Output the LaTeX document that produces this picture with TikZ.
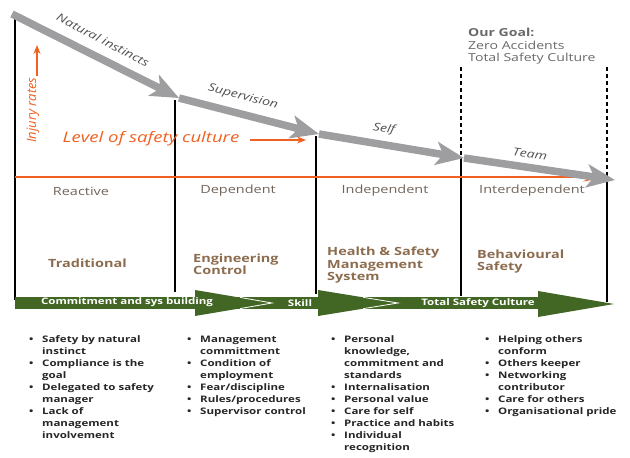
\documentclass[tikz,border=0pt]{standalone}
\usepackage{fontspec}
\setmainfont[FakeStretch=1.28]{Open Sans}
\newfontfamily\plainfont{Open Sans}
\usetikzlibrary{arrows.meta}
\definecolor{arrgray}{RGB}{158,158,160}
\definecolor{lblgray}{RGB}{80,80,84}
\definecolor{stage}{RGB}{112,100,90}
\definecolor{cat}{RGB}{140,108,78}
\definecolor{goal}{RGB}{105,105,105}
\definecolor{orng}{RGB}{240,96,32}
\definecolor{band}{RGB}{66,102,36}
\newcommand{\bit}[1]{\par\noindent\hangindent=13pt\hangafter=1\makebox[13pt][l]{\textbullet}#1\par}
\begin{document}
\begin{tikzpicture}[x=1pt,y=-1pt,
  vline/.style={line width=2pt,black},
  dline/.style={line width=2pt,black,dash pattern=on 4pt off 3pt},
  grayseg/.style={line width=7.5pt,arrgray,-{Stealth[length=28pt,width=23pt,inset=7pt]}},
  arrlbl/.style={font=\itshape\fontsize{11}{13}\selectfont,text=lblgray,inner sep=0pt},
  stagelbl/.style={font=\fontsize{11.3}{13}\selectfont,text=stage,inner sep=0pt},
  catlbl/.style={font=\bfseries\fontsize{11.3}{12.5}\selectfont,text=cat,inner sep=0pt,align=left,anchor=west},
  bandlbl/.style={font=\bfseries\fontsize{9}{10}\selectfont,text=white,inner sep=0pt},
  blist/.style={font=\bfseries\fontsize{9}{12}\selectfont,text=black!85,inner sep=0pt,anchor=north west,align=left}
]
\useasboundingbox (0,0) rectangle (630,458);
% coordinates
\coordinate (p0) at (12,14);
\coordinate (p1) at (179,98);
\coordinate (p2) at (319,134);
\coordinate (p3) at (464,158);
\coordinate (p4) at (615,180);
% vertical lines
\coordinate (a1) at (15,17); \coordinate (b1) at (15,300);
\coordinate (a2) at (175,100); \coordinate (b2) at (175,292);
\coordinate (a3) at (316,136); \coordinate (b3) at (316,294);
\coordinate (a4) at (461,67); \coordinate (m4) at (461,158); \coordinate (b4) at (461,296);
\coordinate (a5) at (607,67); \coordinate (m5) at (607,178); \coordinate (b5) at (607,302);
\draw[vline] (a1) -- (b1);
\draw[vline] (a2) -- (b2);
\draw[vline] (a3) -- (b3);
\draw[dline] (a4) -- (m4);
\draw[vline] (m4) -- (b4);
\draw[dline] (a5) -- (m5);
\draw[vline] (m5) -- (b5);
% orange level line
\coordinate (o1) at (15,177);
\coordinate (o2) at (609,177);
\draw[orng,line width=2.5pt,-{Stealth[length=26pt,width=9pt]}] (o1) -- (o2);
% gray arrows
\draw[grayseg] (p0) -- (p1);
\draw[grayseg] (p1) -- (p2);
\draw[grayseg] (p2) -- (p3);
\draw[grayseg] (p3) -- (p4);
% labels on gray arrow
\node[arrlbl,rotate=-27.7] (nat) at (103,40) {Natural instincts};
\node[arrlbl,rotate=-14] (sup) at (243,97) {Supervision};
\node[arrlbl,rotate=-9] (self) at (384,129) {Self};
\node[arrlbl,rotate=-8] (team) at (530,154) {Team};
% level of safety culture
\node[font=\itshape\fontsize{14.5}{16}\selectfont,text=orng,inner sep=0pt] (lev) at (151,139) {Level of safety culture};
\coordinate (la) at (250,140);
\coordinate (lb) at (306,140);
\draw[orng,line width=1.3pt,-{Stealth[length=9pt,width=7pt]}] (la) -- (lb);
% injury rates
\node[font=\plainfont\itshape\fontsize{13}{15}\selectfont,text=orng,inner sep=0pt,rotate=90] (inj) at (33,110) {Injury rates};
\coordinate (ia) at (37,76);
\coordinate (ib) at (37,45);
\draw[orng,line width=1.3pt,-{Stealth[length=9pt,width=7pt]}] (ia) -- (ib);
% stage labels
\node[stagelbl] (reac) at (81,191) {Reactive};
\node[stagelbl] (dep) at (238,191) {Dependent};
\node[stagelbl] (ind) at (385,191) {Independent};
\node[stagelbl] (inter) at (532,191) {Interdependent};
% goal
\node[font=\fontsize{11}{12.5}\selectfont,text=goal,inner sep=0pt,anchor=north west,align=left] (goal) at (468,28) {\textbf{Our Goal:}\\Zero Accidents\\Total Safety Culture};
% category labels
\node[catlbl] (trad) at (48,263) {Traditional};
\node[catlbl] (eng) at (193,264.5) {Engineering\\Control};
\node[catlbl] (hsm) at (327,265.5) {Health \& Safety\\Management\\System};
\node[catlbl] (beh) at (477,261.5) {Behavioural\\Safety};
% green band
\fill[band] (15,297) rectangle (545,309);
\fill[band] (195,290) -- (272,303) -- (195,316) -- cycle;
\fill[band] (318,290) -- (398,303) -- (318,316) -- cycle;
\fill[band] (538,291) -- (614,304) -- (538,317) -- cycle;
\draw[white,line width=0.8pt] (240,297.4) -- (272,303) -- (240,308.6);
\draw[white,line width=0.8pt] (363,297.3) -- (398,303) -- (363,308.7);
\node[bandlbl] (b1l) at (127,302.5) {Commitment and sys building};
\node[bandlbl] (b2l) at (300,303) {Skill};
\node[bandlbl] (b3l) at (478,303) {Total Safety Culture};
% bullet lists
\node[blist,text width=150pt] (c1) at (29,330) {%
\bit{Safety by natural\newline instinct}
\bit{Compliance is the\newline goal}
\bit{Delegated to safety\newline manager}
\bit{Lack of\newline management\newline involvement}};
\node[blist,text width=150pt] (c2) at (187,330) {%
\bit{Management\newline committment}
\bit{Condition of\newline employment}
\bit{Fear/discipline}
\bit{Rules/procedures}
\bit{Supervisor control}};
\node[blist,text width=150pt] (c3) at (331,330) {%
\bit{Personal\newline knowledge,\newline commitment and\newline standards}
\bit{Internalisation}
\bit{Personal value}
\bit{Care for self}
\bit{Practice and habits}
\bit{Individual\newline recognition}};
\node[blist,text width=150pt] (c4) at (485,330) {%
\bit{Helping others\newline conform}
\bit{Others keeper}
\bit{Networking\newline contributor}
\bit{Care for others}
\bit{Organisational pride}};
\end{tikzpicture}
\end{document}
